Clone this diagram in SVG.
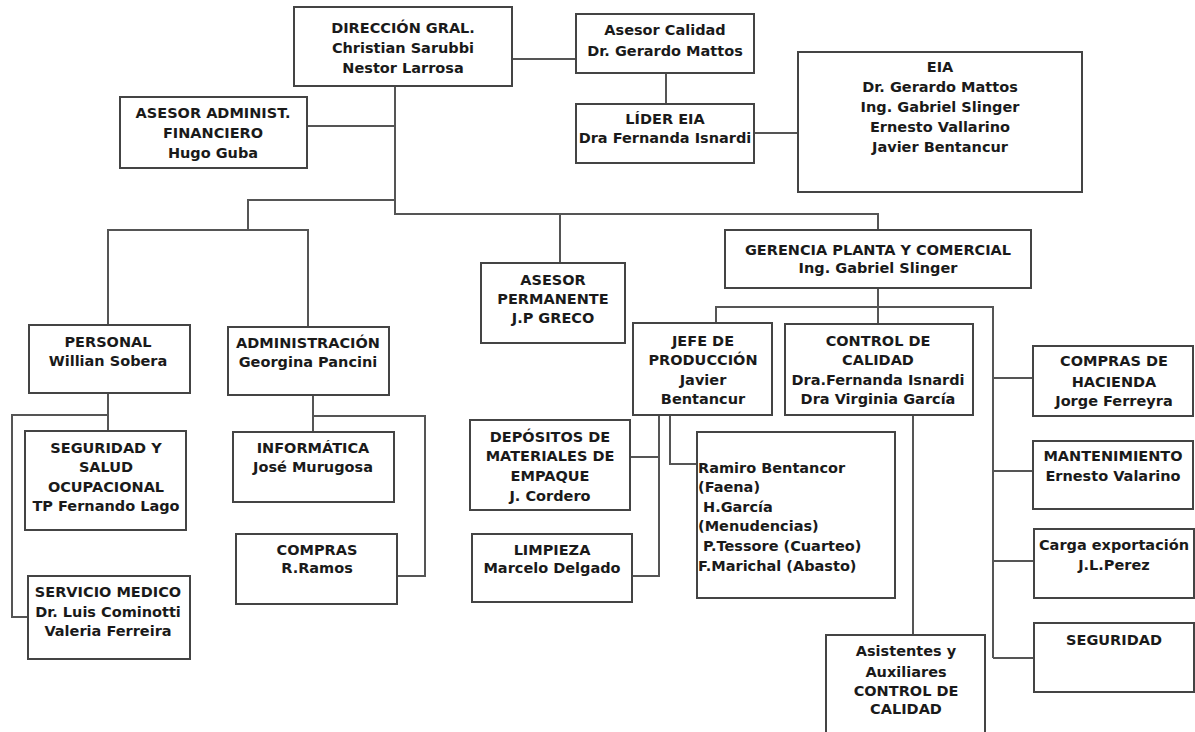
<svg xmlns="http://www.w3.org/2000/svg" width="1195" height="732" viewBox="0 0 1195 732">
<style>
.box{fill:#fff;stroke:#444;stroke-width:2}
.t{font-family:"DejaVu Sans",Verdana,sans-serif;font-weight:bold;font-size:14.5px;fill:#1a1a1a;text-anchor:middle}
.l{text-anchor:start}
.c{fill:none;stroke:#555;stroke-width:2}
</style>
<rect width="1195" height="732" fill="#fff"/>
<g id="connectors">
<path class="c" d="M512,59 H576"/>
<path class="c" d="M666,73 V104"/>
<path class="c" d="M754,133 H798"/>
<path class="c" d="M395,86 V214 H878 V230"/>
<path class="c" d="M307,126 H395"/>
<path class="c" d="M395,200 H248 V230"/>
<path class="c" d="M108,325 V230 H308 V327"/>
<path class="c" d="M560,214 V263"/>
<path class="c" d="M878,288 V324"/>
<path class="c" d="M716,323 V307 H993 V658"/>
<path class="c" d="M993,378 H1033"/>
<path class="c" d="M993,471 H1033"/>
<path class="c" d="M993,561 H1034"/>
<path class="c" d="M993,658 H1034"/>
<path class="c" d="M108,393 V431"/>
<path class="c" d="M108,415 H12 V617 H28"/>
<path class="c" d="M313,395 V432"/>
<path class="c" d="M313,416 H425 V576 H397"/>
<path class="c" d="M659,415 V576 H632"/>
<path class="c" d="M630,457 H659"/>
<path class="c" d="M670,415 V464 H697"/>
<path class="c" d="M913,415 V635"/>
</g>
<g id="direccion"><rect class="box" x="294" y="7" width="218" height="79"/>
<text class="t" x="403" y="33">DIRECCIÓN GRAL.</text><text class="t" x="403" y="53">Christian Sarubbi</text><text class="t" x="403" y="73">Nestor Larrosa</text></g>
<g id="asesor-calidad"><rect class="box" x="576" y="14" width="178" height="59"/>
<text class="t" x="665" y="35">Asesor Calidad</text><text class="t" x="665" y="56">Dr. Gerardo Mattos</text></g>
<g id="lider-eia"><rect class="box" x="576" y="104" width="178" height="59"/>
<text class="t" x="665" y="124">LÍDER EIA</text><text class="t" x="665" y="143">Dra Fernanda Isnardi</text></g>
<g id="eia"><rect class="box" x="798" y="52" width="284" height="140"/>
<text class="t" x="940" y="72">EIA</text><text class="t" x="940" y="92">Dr. Gerardo Mattos</text><text class="t" x="940" y="112">Ing. Gabriel Slinger</text><text class="t" x="940" y="132">Ernesto Vallarino</text><text class="t" x="940" y="152">Javier Bentancur</text></g>
<g id="asesor-admin"><rect class="box" x="120" y="97" width="187" height="71"/>
<text class="t" x="213" y="118">ASESOR ADMINIST.</text><text class="t" x="213" y="138">FINANCIERO</text><text class="t" x="213" y="158">Hugo Guba</text></g>
<g id="personal"><rect class="box" x="29" y="325" width="161" height="68"/>
<text class="t" x="108" y="347">PERSONAL</text><text class="t" x="108" y="366">Willian Sobera</text></g>
<g id="administracion"><rect class="box" x="228" y="327" width="161" height="68"/>
<text class="t" x="308" y="348">ADMINISTRACIÓN</text><text class="t" x="308" y="367">Georgina Pancini</text></g>
<g id="seguridad-salud"><rect class="box" x="25" y="431" width="161" height="99"/>
<text class="t" x="106" y="453">SEGURIDAD Y</text><text class="t" x="106" y="472">SALUD</text><text class="t" x="106" y="492">OCUPACIONAL</text><text class="t" x="106" y="511">TP Fernando Lago</text></g>
<g id="servicio-medico"><rect class="box" x="28" y="576" width="162" height="83"/>
<text class="t" x="108" y="597">SERVICIO MEDICO</text><text class="t" x="108" y="617">Dr. Luis Cominotti</text><text class="t" x="108" y="636">Valeria Ferreira</text></g>
<g id="informatica"><rect class="box" x="233" y="432" width="161" height="70"/>
<text class="t" x="313" y="453">INFORMÁTICA</text><text class="t" x="313" y="472">José Murugosa</text></g>
<g id="compras"><rect class="box" x="236" y="534" width="161" height="70"/>
<text class="t" x="317" y="555">COMPRAS</text><text class="t" x="317" y="573">R.Ramos</text></g>
<g id="asesor-permanente"><rect class="box" x="481" y="263" width="144" height="80"/>
<text class="t" x="553" y="285">ASESOR</text><text class="t" x="553" y="304">PERMANENTE</text><text class="t" x="553" y="323">J.P GRECO</text></g>
<g id="gerencia"><rect class="box" x="725" y="230" width="306" height="58"/>
<text class="t" x="878" y="255">GERENCIA PLANTA Y COMERCIAL</text><text class="t" x="878" y="273">Ing. Gabriel Slinger</text></g>
<g id="jefe-produccion"><rect class="box" x="633" y="323" width="139" height="92"/>
<text class="t" x="703" y="346">JEFE DE</text><text class="t" x="703" y="365">PRODUCCIÓN</text><text class="t" x="703" y="385">Javier</text><text class="t" x="703" y="404">Bentancur</text></g>
<g id="control-calidad"><rect class="box" x="785" y="324" width="188" height="91"/>
<text class="t" x="878" y="346">CONTROL DE</text><text class="t" x="878" y="365">CALIDAD</text><text class="t" x="878" y="385">Dra.Fernanda Isnardi</text><text class="t" x="878" y="404">Dra Virginia García</text></g>
<g id="depositos"><rect class="box" x="470" y="420" width="160" height="90"/>
<text class="t" x="550" y="442">DEPÓSITOS DE</text><text class="t" x="550" y="461">MATERIALES DE</text><text class="t" x="550" y="481">EMPAQUE</text><text class="t" x="550" y="501">J. Cordero</text></g>
<g id="limpieza"><rect class="box" x="472" y="534" width="160" height="68"/>
<text class="t" x="552" y="555">LIMPIEZA</text><text class="t" x="552" y="573">Marcelo Delgado</text></g>
<g id="encargados"><rect class="box" x="697" y="432" width="198" height="166"/>
<text class="t l" x="698" y="473">Ramiro Bentancor</text><text class="t l" x="698" y="492">(Faena)</text><text class="t l" x="703" y="512">H.García</text><text class="t l" x="698" y="531">(Menudencias)</text><text class="t l" x="703" y="551">P.Tessore (Cuarteo)</text><text class="t l" x="698" y="571">F.Marichal (Abasto)</text></g>
<g id="asistentes"><rect class="box" x="826" y="635" width="159" height="100"/>
<text class="t" x="906" y="656">Asistentes y</text><text class="t" x="906" y="677">Auxiliares</text><text class="t" x="906" y="696">CONTROL DE</text><text class="t" x="906" y="714">CALIDAD</text></g>
<g id="compras-hacienda"><rect class="box" x="1033" y="346" width="160" height="70"/>
<text class="t" x="1114" y="366">COMPRAS DE</text><text class="t" x="1114" y="387">HACIENDA</text><text class="t" x="1114" y="406">Jorge Ferreyra</text></g>
<g id="mantenimiento"><rect class="box" x="1033" y="441" width="160" height="68"/>
<text class="t" x="1113" y="461">MANTENIMIENTO</text><text class="t" x="1113" y="481">Ernesto Valarino</text></g>
<g id="carga"><rect class="box" x="1034" y="529" width="160" height="69"/>
<text class="t" x="1114" y="550">Carga exportación</text><text class="t" x="1114" y="570">J.L.Perez</text></g>
<g id="seguridad"><rect class="box" x="1034" y="623" width="160" height="69"/>
<text class="t" x="1114" y="645">SEGURIDAD</text></g>
</svg>
